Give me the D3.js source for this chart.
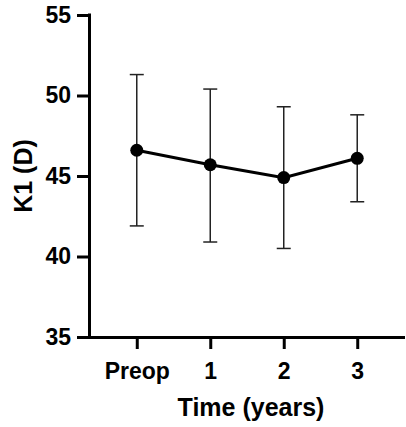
<!DOCTYPE html>
<meta charset="utf-8">
<style>
  body { margin: 0; background: #fff; }
  svg text { font-family: "Liberation Sans", Arial, sans-serif; font-weight: bold; fill: #000; }
</style>
<svg width="406" height="427"></svg>
<script src="https://cdn.jsdelivr.net/npm/d3@7"></script>
<script>
// data (mean with error bars)
var times = ["Preop", "1", "2", "3"];
var means = [46.6, 45.7, 44.9, 46.1];
var upper = [51.3, 50.4, 49.3, 48.8];
var lower = [41.9, 40.9, 40.5, 43.4];
var yTicks = [35, 40, 45, 50, 55];

var svg = d3.select("svg");

var mLeft = 89, mRight = 405, mTop = 15, mBottom = 337;

var x = d3.scalePoint()
    .domain(times)
    .range([mLeft, mRight])
    .padding(0.65);

var y = d3.scaleLinear()
    .domain([35, 55])
    .range([mBottom, mTop]);

// y axis
var gy = svg.append("g")
    .attr("transform", "translate(" + mLeft + ",0)")
    .call(d3.axisLeft(y).tickValues(yTicks).tickSize(12).tickSizeOuter(0).tickPadding(6));

// x axis
var gx = svg.append("g")
    .attr("transform", "translate(0," + mBottom + ")")
    .call(d3.axisBottom(x).tickSize(12).tickSizeOuter(0).tickPadding(14));

[gx, gy].forEach(function(g) {
  g.select(".domain").attr("stroke", "#000").attr("stroke-width", 3);
  g.selectAll(".tick line").attr("stroke", "#000").attr("stroke-width", 3);
  g.selectAll(".tick text").attr("font-size", "23px").attr("fill", "#000");
});
// make the corner meet cleanly
gx.select(".domain").attr("d", "M" + (mLeft - 1.5) + ",0.5H" + mRight);
gy.select(".domain").attr("d", "M0.5," + (mTop - 1.5) + "V" + (mBottom + 1.5));

// error bars
var eb = svg.append("g").selectAll("g")
    .data(times)
    .enter().append("g")
    .attr("stroke", "#222")
    .attr("stroke-width", 1.5);

eb.append("line")
    .attr("x1", function(d) { return x(d); })
    .attr("x2", function(d) { return x(d); })
    .attr("y1", function(d, i) { return y(upper[i]); })
    .attr("y2", function(d, i) { return y(lower[i]); });

eb.append("line")
    .attr("x1", function(d) { return x(d) - 7; })
    .attr("x2", function(d) { return x(d) + 7; })
    .attr("y1", function(d, i) { return y(upper[i]); })
    .attr("y2", function(d, i) { return y(upper[i]); });

eb.append("line")
    .attr("x1", function(d) { return x(d) - 7; })
    .attr("x2", function(d) { return x(d) + 7; })
    .attr("y1", function(d, i) { return y(lower[i]); })
    .attr("y2", function(d, i) { return y(lower[i]); });

// mean line
var line = d3.line()
    .x(function(d, i) { return x(times[i]); })
    .y(function(d) { return y(d); });

svg.append("path")
    .datum(means)
    .attr("fill", "none")
    .attr("stroke", "#000")
    .attr("stroke-width", 3)
    .attr("d", line);

svg.append("g").selectAll("circle")
    .data(means)
    .enter().append("circle")
    .attr("cx", function(d, i) { return x(times[i]); })
    .attr("cy", function(d) { return y(d); })
    .attr("r", 6.5)
    .attr("fill", "#000");

// axis titles
svg.append("text")
    .attr("x", 251)
    .attr("y", 416)
    .attr("text-anchor", "middle")
    .attr("font-size", "25px")
    .text("Time (years)");

svg.append("text")
    .attr("transform", "translate(32," + ((mTop + mBottom) / 2) + ") rotate(-90)")
    .attr("text-anchor", "middle")
    .attr("font-size", "25px")
    .text("K1 (D)");
</script>
